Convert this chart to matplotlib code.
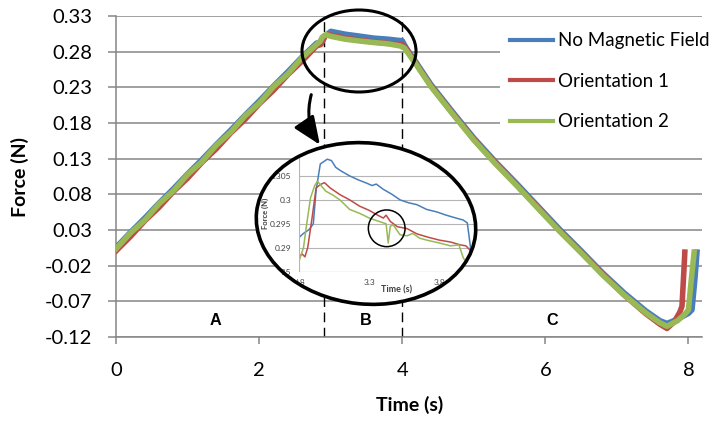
import matplotlib
matplotlib.use("Agg")
import matplotlib.pyplot as plt
from matplotlib.patches import Ellipse, FancyArrowPatch
from matplotlib.transforms import Affine2D, Bbox

plt.rcParams["font.family"] = ["Lato", "DejaVu Sans"]

# ---- data ----
t_ascent = [0.0, 0.2, 0.4, 0.6, 0.8, 1.0, 1.2, 1.4, 1.6, 1.8, 2.0, 2.2, 2.4, 2.6, 2.8]

blue_t = t_ascent + [2.88, 2.92, 3.0, 3.2, 3.4, 3.6, 3.8, 4.0, 4.05, 4.2, 4.4, 4.7, 5.0, 5.3,
                     5.6, 5.9, 6.2, 6.5, 6.8, 7.1, 7.4, 7.6, 7.7, 7.85, 8.0, 8.05, 8.09, 8.12]
blue_f = [0.006, 0.027, 0.047, 0.068, 0.088, 0.109, 0.129, 0.150, 0.170, 0.191, 0.211, 0.232,
          0.252, 0.273, 0.292,
          0.294, 0.302, 0.3085, 0.3045, 0.3018, 0.299, 0.2975, 0.2952, 0.286, 0.264, 0.234,
          0.196, 0.159, 0.126, 0.095, 0.063, 0.031, 0.001, -0.030, -0.058, -0.083, -0.097,
          -0.101, -0.095, -0.087, -0.082, -0.040, -0.001]

red_t = t_ascent + [2.86, 2.92, 2.98, 3.2, 3.4, 3.6, 3.8, 4.0, 4.05, 4.2, 4.4, 4.7, 5.0, 5.3,
                    5.6, 5.9, 6.2, 6.5, 6.8, 7.1, 7.4, 7.6, 7.7, 7.8, 7.88, 7.91, 7.93, 7.95]
red_f = [0.001, 0.021, 0.043, 0.062, 0.084, 0.103, 0.125, 0.144, 0.166, 0.185, 0.207, 0.226,
         0.248, 0.267, 0.288,
         0.290, 0.3025, 0.3036, 0.2990, 0.2962, 0.2935, 0.2916, 0.2902, 0.285, 0.262, 0.232,
         0.194, 0.157, 0.124, 0.093, 0.061, 0.029, -0.001, -0.032, -0.061, -0.087, -0.102,
         -0.108, -0.099, -0.085, -0.077, -0.040, -0.001]

green_t = t_ascent + [2.85, 2.88, 2.93, 3.0, 3.2, 3.4, 3.6, 3.8, 3.97, 4.03, 4.2, 4.4, 4.7, 5.0,
                      5.3, 5.6, 5.9, 6.2, 6.5, 6.8, 7.1, 7.4, 7.6, 7.7, 7.85, 7.95, 8.0, 8.04, 8.08]
green_f = [0.004, 0.026, 0.044, 0.067, 0.085, 0.108, 0.126, 0.149, 0.167, 0.190, 0.208, 0.231,
           0.249, 0.272, 0.290,
           0.2944, 0.3004, 0.3039, 0.3015, 0.2975, 0.2950, 0.2928, 0.2910, 0.2880, 0.285, 0.261,
           0.231, 0.193, 0.156, 0.123, 0.092, 0.060, 0.028, -0.002, -0.033, -0.061, -0.086,
           -0.100, -0.105, -0.097, -0.088, -0.082, -0.040, -0.001]

# zoomed view of region B
ins_blue_t = [2.80, 2.83, 2.87, 2.90, 2.92, 2.95, 3.00, 3.03, 3.06, 3.10, 3.16, 3.22, 3.28, 3.32,
              3.35, 3.40, 3.46, 3.52, 3.58, 3.64, 3.71, 3.78, 3.85, 3.92, 3.97, 4.00, 4.05]
ins_blue_f = [0.2922, 0.2930, 0.2938, 0.2950, 0.3020, 0.3075, 0.3085, 0.3082, 0.3068, 0.3060,
              0.3050, 0.3042, 0.3035, 0.3030, 0.3033, 0.3022, 0.3012, 0.3000, 0.2994, 0.2990,
              0.2980, 0.2975, 0.2968, 0.2962, 0.2958, 0.2952, 0.2840]
ins_red_t = [2.80, 2.82, 2.84, 2.86, 2.89, 2.92, 2.95, 2.98, 3.02, 3.09, 3.16, 3.23, 3.30, 3.36,
             3.40, 3.42, 3.45, 3.50, 3.57, 3.64, 3.72, 3.80, 3.88, 3.95, 3.99, 4.02, 4.05]
ins_red_f = [0.2882, 0.2887, 0.2881, 0.2900, 0.2960, 0.3025, 0.3032, 0.3036, 0.3025, 0.3011,
             0.3000, 0.2987, 0.2978, 0.2968, 0.2962, 0.2968, 0.2955, 0.2944, 0.2940, 0.2929,
             0.2922, 0.2916, 0.2912, 0.2906, 0.2904, 0.2895, 0.2860]
ins_green_t = [2.80, 2.83, 2.85, 2.88, 2.91, 2.93, 2.96, 2.99, 3.04, 3.09, 3.16, 3.23, 3.30, 3.37,
               3.42, 3.435, 3.45, 3.47, 3.52, 3.57, 3.61, 3.66, 3.71, 3.80, 3.88, 3.94, 3.97,
               4.00, 4.03]
ins_green_f = [0.2874, 0.2900, 0.2944, 0.3004, 0.3030, 0.3039, 0.3028, 0.3018, 0.3010, 0.3000,
               0.2980, 0.2972, 0.2962, 0.2955, 0.2950, 0.2910, 0.2945, 0.2948, 0.2927, 0.2925,
               0.2930, 0.2920, 0.2916, 0.2910, 0.2904, 0.2906, 0.2880, 0.2865, 0.2850]

labels = ["No Magnetic Field", "Orientation 1", "Orientation 2"]
colors = ["#4A7EBB", "#BE4B48", "#98B954"]

y_ticks = [-0.12, -0.07, -0.02, 0.03, 0.08, 0.13, 0.18, 0.23, 0.28, 0.33]
y_ticklabels = ["-0.12", "-0.07", "-0.02", "0.03", "0.08", "0.13", "0.18", "0.23", "0.28", "0.33"]
x_ticks = [0, 2, 4, 6, 8]
ins_y_ticks = [0.285, 0.29, 0.295, 0.3, 0.305]
ins_y_ticklabels = ["0.285", "0.29", "0.295", "0.3", "0.305"]
ins_x_ticks = [2.8, 3.3, 3.8]
ins_x_ticklabels = ["2.8", "3.3", "3.8"]

region_names = ["A", "B", "C"]
region_x = [1.39, 3.49, 6.09]
boundaries = [2.905, 4.0]

W, H = 712, 421
# pixel coords measured from the top-left corner -> display coords
pix = Affine2D().scale(1, -1).translate(0, H)

fig = plt.figure(figsize=(W / 100, H / 100), dpi=100)
ax = fig.add_axes([116.3 / W, 1 - 337 / H, (702 - 116.3) / W, 321 / H])

grid_col = "#868686"
for t, f, lab, c in zip([blue_t, red_t, green_t], [blue_f, red_f, green_f], labels, colors):
    ax.plot(t, f, color=c, lw=4.0, label=lab, solid_joinstyle="round", zorder=3)

ax.set_xlim(0, 8.19)
ax.set_ylim(-0.12, 0.33)
ax.set_yticks(y_ticks)
ax.set_yticklabels(y_ticklabels)
ax.set_xticks(x_ticks)
ax.grid(axis="y", color=grid_col, lw=1.1)
ax.set_axisbelow(True)
for s in ["top", "right"]:
    ax.spines[s].set_visible(False)
for s in ["left", "bottom"]:
    ax.spines[s].set_color(grid_col)
    ax.spines[s].set_linewidth(1.1)
ax.tick_params(axis="y", length=6, width=1.1, color=grid_col, pad=11.5, labelsize=14.5)
ax.tick_params(axis="x", length=5, width=1.1, color=grid_col, pad=13, labelsize=14.5)

for b in boundaries:
    ax.axvline(b, color="black", lw=1.0, dashes=(7, 4), zorder=2)
for name, x in zip(region_names, region_x):
    ax.text(x, -0.097, name, ha="center", va="center", fontsize=11.7,
            fontweight="bold", family="Liberation Sans")

leg = ax.legend(loc="upper left", bbox_to_anchor=(500 / W, 1 - 22 / H), bbox_transform=fig.transFigure,
                frameon=True, facecolor="white", edgecolor="none", fancybox=False,
                borderpad=0.55, labelspacing=1.25, handlelength=2.25, handletextpad=0.3,
                borderaxespad=0, fontsize=13.5)
leg.get_frame().set_alpha(1)
for h in leg.get_lines():
    h.set_linewidth(3)

fig.text(20 / W, 1 - 177 / H, "Force (N)", rotation=90, ha="center", va="center",
         fontsize=14, fontweight="bold")
fig.text(410 / W, 1 - 405 / H, "Time (s)", ha="center", va="center",
         fontsize=14, fontweight="bold")

# small ellipse around region B, arrow down to the zoom bubble
fig.add_artist(Ellipse((359, 51), 114, 82, transform=pix, fill=False,
                       edgecolor="black", lw=2.2, zorder=3))
fig.add_artist(FancyArrowPatch((312, 92), (321.5, 147), transform=pix,
                               connectionstyle="arc3,rad=0.25",
                               arrowstyle="-|>,head_length=1.0,head_width=0.42",
                               mutation_scale=17, color="black", lw=2.2, zorder=3))

# zoom bubble
bubble = dict(xy=(366, 223.5), width=220, height=161, angle=6, transform=pix)
fig.add_artist(Ellipse(**bubble, facecolor="white", edgecolor="none", zorder=1.5))
clip_ell = Ellipse(**bubble)

iax = fig.add_axes([299.3 / W, 1 - 271.7 / H, 210 / W, 119.7 / H], zorder=2)
iax.set_facecolor("none")
for t, f, c in zip([ins_blue_t, ins_red_t, ins_green_t], [ins_blue_f, ins_red_f, ins_green_f], colors):
    ln, = iax.plot(t, f, color=c, lw=1.1)
    ln.set_clip_path(clip_ell)
iax.set_xlim(2.8, 4.3)
iax.set_ylim(0.285, 0.31)
iax.set_yticks(ins_y_ticks)
iax.set_yticklabels(ins_y_ticklabels)
iax.set_xticks(ins_x_ticks)
iax.set_xticklabels(ins_x_ticklabels)
iax.tick_params(length=0, labelsize=6, labelcolor="#404040")
iax.tick_params(axis="y", pad=5.8)
iax.tick_params(axis="x", pad=5.6)
iax.grid(axis="y", color="#b4b4b4", lw=0.8)
for s in ["top", "right"]:
    iax.spines[s].set_visible(False)
for s in ["left", "bottom"]:
    iax.spines[s].set_color("#b4b4b4")
    iax.spines[s].set_linewidth(0.8)
    iax.spines[s].set_clip_path(clip_ell)
iax.yaxis.set_clip_path(clip_ell)

# Agg clips text only by rectangles: cut each inset label at the bubble outline
outline = clip_ell.get_transform().transform_path(clip_ell.get_path()).to_polygons()[0]


def chord(yd):
    xs = []
    for (x0, y0), (x1, y1) in zip(outline[:-1], outline[1:]):
        if y0 != y1 and (y0 - yd) * (y1 - yd) <= 0:
            xs.append(x0 + (yd - y0) * (x1 - x0) / (y1 - y0))
    return min(xs), max(xs)


for v, lab in zip(ins_y_ticks, iax.get_yticklabels()):
    yd = iax.transData.transform((2.8, v))[1]
    xl, xr = chord(yd)
    lab.set_clip_box(Bbox([[xl, yd - 8], [xr, yd + 8]]))
x_lab_y = iax.transData.transform((2.8, 0.285))[1] - 11
for lab in iax.get_xticklabels():
    xl, xr = chord(x_lab_y)
    lab.set_clip_box(Bbox([[xl, x_lab_y - 8], [xr, x_lab_y + 8]]))

fig.text(265 / W, 1 - 213 / H, "Force (N)", rotation=90, ha="center", va="center",
         fontsize=5.5, fontweight="bold", color="#404040", zorder=2)
fig.text(397 / W, 1 - 290 / H, "Time (s)", ha="center", va="center",
         fontsize=6.5, fontweight="bold", color="#404040", zorder=2)

fig.add_artist(Ellipse((386.7, 228.3), 36.7, 36.7, transform=pix, fill=False,
                       edgecolor="black", lw=1.1, zorder=3))
fig.add_artist(Ellipse(**bubble, fill=False, edgecolor="black", lw=2.6, zorder=3))

fig.savefig("out.png", dpi=100, facecolor="white")
